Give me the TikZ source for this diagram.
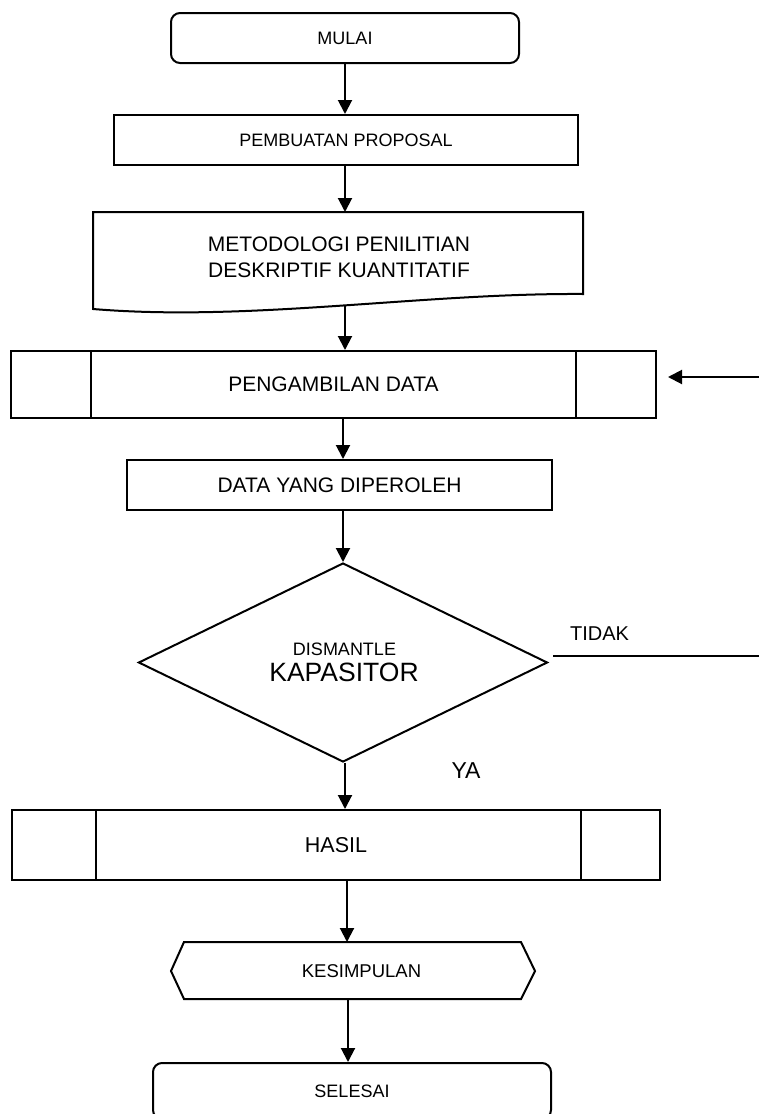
\documentclass[tikz,border=0pt]{standalone}
\usepackage{fontspec}
\setmainfont{Liberation Sans}
\usetikzlibrary{arrows.meta,shapes.geometric}
\newcommand{\fsz}[1]{\fontsize{#1}{#1}\selectfont}
\begin{document}
\begin{tikzpicture}[x=1pt,y=-1pt,line width=2pt,
  box/.style={draw,rectangle,inner sep=0pt},
  lbl/.style={inner sep=0pt},
  arr/.style={-{Triangle[length=14pt,width=14pt]}}]
\fill[white] (0,0) rectangle (759,1114);
\useasboundingbox (0,0) rectangle (759,1114);

% MULAI
\node[box,rounded corners=9pt,minimum width=348pt,minimum height=50pt,font=\fsz{18}] (mulai) at (345,38) {MULAI};
% PEMBUATAN PROPOSAL
\node[box,minimum width=464pt,minimum height=50pt,font=\fsz{18}] (prop) at (346,140) {PEMBUATAN PROPOSAL};
% document shape
\draw (93,212) -- (583,212) -- (583,294) .. controls (420,293) and (250,322) .. (93,309) -- cycle;
\node[lbl,align=center,font=\fontsize{21}{26}\selectfont] (doc) at (339,257) {METODOLOGI PENILITIAN\\DESKRIPTIF KUANTITATIF};
\coordinate (doctop) at (345,212);
\coordinate (docbot) at (345,306);
% PENGAMBILAN DATA
\node[box,minimum width=645pt,minimum height=67pt,font=\fsz{21}] (ambil) at (333.5,384.5) {PENGAMBILAN DATA};
\draw ([xshift=81pt]ambil.north west) -- ([xshift=81pt]ambil.south west);
\draw ([xshift=-81pt]ambil.north east) -- ([xshift=-81pt]ambil.south east);
\coordinate (inR) at (759,377);
\coordinate (inL) at (668,377);
% DATA YANG DIPEROLEH
\node[box,minimum width=425pt,minimum height=50pt,font=\fsz{21}] (data) at (339.5,485) {DATA YANG DIPEROLEH};
% decision
\node[draw,diamond,minimum width=409pt,minimum height=199pt,inner sep=0pt] (dec) at (343,662.5) {};
\node[lbl,font=\fsz{18}] (dis) at (344.5,649) {DISMANTLE};
\node[lbl,font=\fsz{26.5}] (kap) at (344,672.5) {KAPASITOR};
\node[lbl,font=\fsz{20}] (tidak) at (599.5,634) {TIDAK};
\coordinate (t1) at (553,656);
\coordinate (t2) at (759,656);
\node[lbl,font=\fsz{23}] (ya) at (466,771) {YA};
% HASIL
\node[box,minimum width=648pt,minimum height=70pt,font=\fsz{21.5}] (hasil) at (336,845) {HASIL};
\draw ([xshift=85pt]hasil.north west) -- ([xshift=85pt]hasil.south west);
\draw ([xshift=-80pt]hasil.north east) -- ([xshift=-80pt]hasil.south east);
% KESIMPULAN
\draw (171,971) -- (184,942) -- (521,942) -- (535,971) -- (521,999) -- (184,999) -- cycle;
\node[lbl,font=\fsz{18.5}] (kes) at (361.5,971) {KESIMPULAN};
\coordinate (kestop) at (347,942);
\coordinate (kesbot) at (348,999);
% SELESAI
\node[box,rounded corners=9pt,minimum width=398pt,minimum height=56pt,font=\fsz{18}] (sel) at (352,1091) {SELESAI};

% connectors
\draw[arr] (mulai.south) -- (mulai.south |- prop.north);
\draw[arr] (prop.south -| doctop) -- (doctop);
\draw[arr] (docbot) -- (docbot |- ambil.north);
\draw[arr] (inR) -- (inL);
\draw[arr] (ambil.south -| dec.north) -- (data.north -| dec.north);
\draw[arr] (data.south -| dec.north) -- (dec.north);
\draw (t1) -- (t2);
\draw[arr] ([xshift=2pt]dec.south) -- ([xshift=2pt]dec.south |- hasil.north);
\draw[arr] (hasil.south -| kestop) -- (kestop);
\draw[arr] (kesbot) -- (kesbot |- sel.north);
\end{tikzpicture}
\end{document}
